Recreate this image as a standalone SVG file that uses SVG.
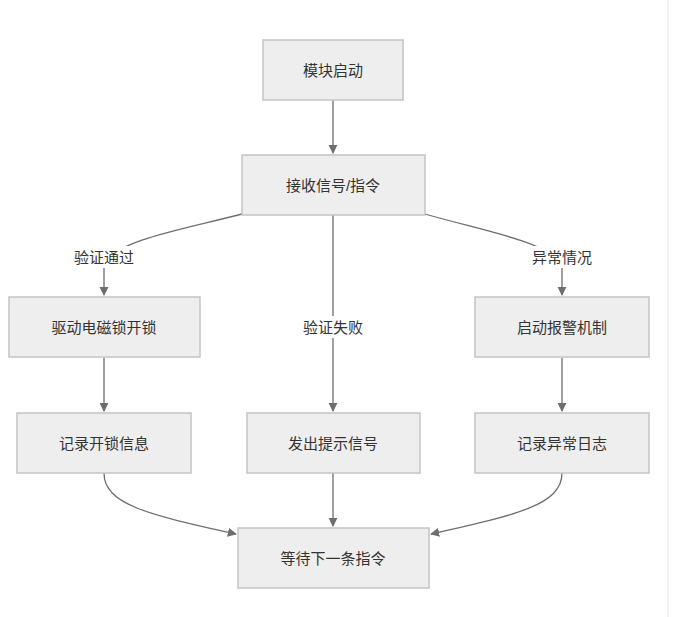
<svg xmlns="http://www.w3.org/2000/svg" width="673" height="617" viewBox="0 0 673 617">
<style>
.n rect{fill:#eeeeee;stroke:#c4c4c4;stroke-width:1.5}
text{font-family:"Liberation Sans","Noto Sans CJK SC",sans-serif;font-size:15px;fill:#333;text-anchor:middle;dominant-baseline:central}
.e path{fill:none;stroke:#6e6e6e;stroke-width:1.3}
.lb rect{fill:#fff}
</style>
<defs><marker id="a" viewBox="0 0 10 10" refX="9" refY="5" markerWidth="7" markerHeight="7" orient="auto"><path d="M0,0L10,5L0,10z" fill="#6e6e6e"/></marker></defs>
<rect width="673" height="617" fill="#fff"/>
<line x1="668" y1="0" x2="668" y2="617" stroke="#e2e2e2"/>
<g class="e">
<path d="M333,100V153" marker-end="url(#a)"/>
<path d="M242,214C180,230 120,240 104,262C104,275 104,285 104,295" marker-end="url(#a)"/>
<path d="M333,215V411" marker-end="url(#a)"/>
<path d="M425,214C480,230 540,240 562,262C562,275 562,285 562,295" marker-end="url(#a)"/>
<path d="M104,358V411" marker-end="url(#a)"/>
<path d="M562,358V411" marker-end="url(#a)"/>
<path d="M104,473C104,505 150,515 236,534" marker-end="url(#a)"/>
<path d="M333,473V526" marker-end="url(#a)"/>
<path d="M562,473C562,505 516,515 431,534" marker-end="url(#a)"/>
</g>
<g class="lb">
<rect x="70" y="246" width="70" height="22"/><text x="104" y="257">验证通过</text>
<rect x="298" y="316" width="70" height="22"/><text x="333" y="327">验证失败</text>
<rect x="527" y="246" width="70" height="22"/><text x="562" y="257">异常情况</text>
</g>
<g id="n1" class="n"><rect x="263" y="40" width="140" height="60"/><text x="333" y="70">模块启动</text></g>
<g id="n2" class="n"><rect x="242" y="155" width="183" height="60"/><text x="333" y="185">接收信号/指令</text></g>
<g id="n3" class="n"><rect x="9" y="297" width="191" height="60"/><text x="104" y="327">驱动电磁锁开锁</text></g>
<g id="n4" class="n"><rect x="475" y="297" width="174" height="60"/><text x="562" y="327">启动报警机制</text></g>
<g id="n5" class="n"><rect x="17" y="413" width="174" height="60"/><text x="104" y="443">记录开锁信息</text></g>
<g id="n6" class="n"><rect x="247" y="413" width="173" height="60"/><text x="333" y="443">发出提示信号</text></g>
<g id="n7" class="n"><rect x="475" y="413" width="174" height="60"/><text x="562" y="443">记录异常日志</text></g>
<g id="n8" class="n"><rect x="238" y="528" width="191" height="60"/><text x="333" y="558">等待下一条指令</text></g>
</svg>
